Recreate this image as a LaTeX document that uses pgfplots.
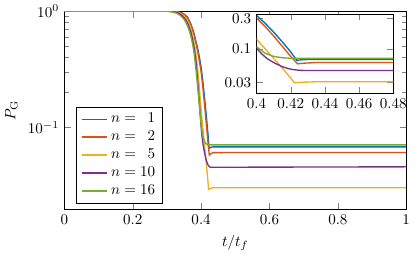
\documentclass[border=0pt]{standalone}
\usepackage{pgfplots}
\pgfplotsset{compat=1.18}
\definecolor{c1}{rgb}{0,0.447,0.741}
\definecolor{c2}{rgb}{0.85,0.325,0.098}
\definecolor{c3}{rgb}{0.929,0.694,0.125}
\definecolor{c4}{rgb}{0.494,0.184,0.556}
\definecolor{c5}{rgb}{0.466,0.674,0.188}
\newcommand{\blue}{(0,1) (0.3,1) (0.32,0.9954) (0.34,0.9772) (0.35,0.9441) (0.36,0.8913) (0.37,0.7762) (0.375,0.7079) (0.38,0.6310) (0.385,0.5495) (0.39,0.4786) (0.395,0.4027) (0.4,0.3311) (0.405,0.2512) (0.41,0.1820) (0.415,0.1288) (0.42,0.0891) (0.4235,0.0661) (0.427,0.0676) (0.435,0.0684) (0.5,0.0684) (1,0.0684)}
\newcommand{\red}{(0,1) (0.3,1) (0.32,0.9954) (0.34,0.9727) (0.35,0.9376) (0.36,0.8790) (0.37,0.7674) (0.375,0.6918) (0.38,0.6166) (0.385,0.5309) (0.39,0.4519) (0.395,0.3715) (0.4,0.3020) (0.405,0.2239) (0.41,0.1585) (0.415,0.1096) (0.42,0.0759) (0.424,0.0582) (0.428,0.0596) (0.435,0.0610) (0.5,0.0612) (1,0.0612)}
\newcommand{\yellow}{(0,1) (0.3,1) (0.32,0.9908) (0.33,0.9772) (0.34,0.9550) (0.35,0.9120) (0.36,0.8318) (0.365,0.7762) (0.37,0.7079) (0.375,0.6166) (0.38,0.5248) (0.385,0.4266) (0.39,0.3162) (0.395,0.2188) (0.4,0.1413) (0.405,0.1) (0.41,0.0708) (0.415,0.0501) (0.42,0.0347) (0.422,0.0295) (0.426,0.0299) (0.435,0.0305) (1,0.0305)}
\newcommand{\purple}{(0,1) (0.3,1) (0.32,0.9886) (0.33,0.9727) (0.34,0.9397) (0.35,0.8810) (0.355,0.8414) (0.36,0.7943) (0.365,0.7328) (0.37,0.6607) (0.375,0.5754) (0.38,0.4786) (0.385,0.3715) (0.39,0.2512) (0.395,0.1622) (0.4,0.1023) (0.403,0.0832) (0.406,0.0708) (0.41,0.0610) (0.415,0.0525) (0.42,0.0479) (0.425,0.0460) (0.43,0.0457) (1,0.0461)}
\newcommand{\green}{(0,1) (0.3,1) (0.31,0.9908) (0.32,0.9772) (0.33,0.9550) (0.34,0.9120) (0.35,0.8511) (0.355,0.8035) (0.36,0.7499) (0.365,0.6839) (0.37,0.6095) (0.375,0.5248) (0.38,0.4266) (0.385,0.3162) (0.39,0.2239) (0.395,0.1549) (0.4,0.1072) (0.405,0.0851) (0.41,0.0759) (0.415,0.0724) (0.42,0.0711) (1,0.0711)}
\begin{document}
\begin{tikzpicture}
\begin{axis}[name=main, at={(0,0)}, anchor=south west,
  scale only axis, width=227.5pt, height=131.8pt,
  xmin=0, xmax=1, ymode=log, ymin=0.01995, ymax=1,
  xtick={0,0.2,0.4,0.6,0.8,1},
  xticklabels={0,0.2,0.4,0.6,0.8,1},
  ytick={0.1,1},
  xlabel={$t/t_f$}, ylabel={$P_{\mathrm{G}}$},
  legend style={at={(0.035,0.03)}, anchor=south west, cells={anchor=west}, font=\normalsize},
  every axis plot/.append style={line width=0.9pt},
]
\addplot[c1] coordinates {\blue};
\addplot[c2] coordinates {\red};
\addplot[c3] coordinates {\yellow};
\addplot[c4] coordinates {\purple};
\addplot[c5] coordinates {\green};
\legend{$n=\phantom{1}1$,$n=\phantom{1}2$,$n=\phantom{1}5$,$n=10$,$n=16$}
\end{axis}
\begin{axis}[at={(127.9pt,77.0pt)}, anchor=south west,
  scale only axis, width=91pt, height=52.9pt,
  axis background/.style={fill=white},
  xmin=0.4, xmax=0.48, ymode=log, ymin=0.02, ymax=0.35,
  xtick={0.4,0.42,0.44,0.46,0.48},
  xticklabels={0.4,0.42,0.44,0.46,0.48},
  ytick={0.03,0.1,0.3}, yticklabels={0.03,0.1,0.3},
  every axis plot/.append style={line width=0.9pt},
]
\addplot[c1] coordinates {\blue};
\addplot[c2] coordinates {\red};
\addplot[c3] coordinates {\yellow};
\addplot[c4] coordinates {\purple};
\addplot[c5] coordinates {\green};
\end{axis}
\end{tikzpicture}
\end{document}
